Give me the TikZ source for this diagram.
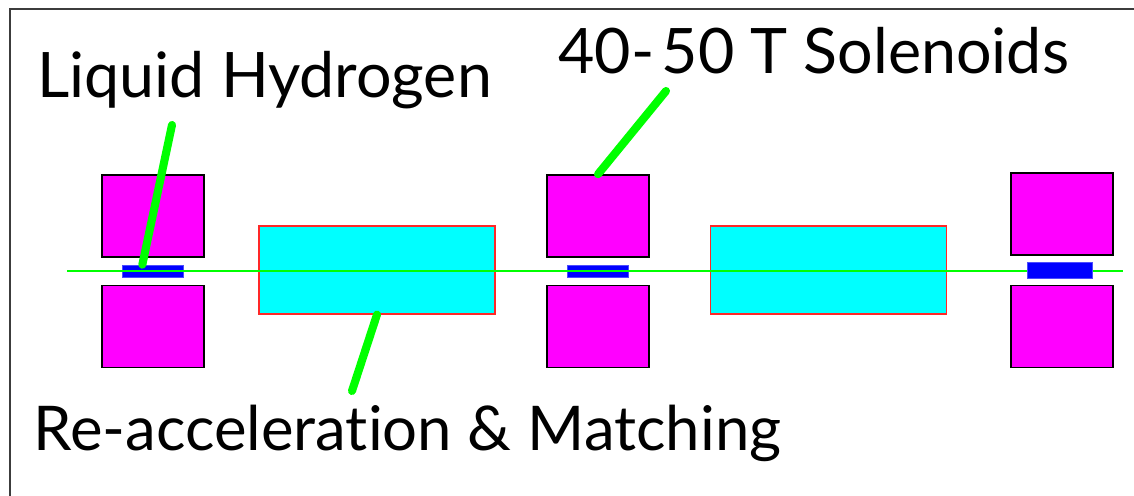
\documentclass[tikz,border=0pt]{standalone}
\usepackage{xcolor}
\usepackage{fontspec}
\setmainfont[RawFeature={-liga}]{Lato}
\definecolor{magnetFill}{RGB}{255,0,255}
\definecolor{cavityFill}{RGB}{0,255,255}
\definecolor{cavityEdge}{RGB}{255,40,40}
\definecolor{absorberFill}{RGB}{0,0,255}
\definecolor{pointerGreen}{RGB}{0,255,0}
\definecolor{frameGray}{RGB}{60,60,60}
\tikzset{
  magnetbox/.style={draw=black,fill=magnetFill,line width=0.9pt,inner sep=0pt,
    minimum width=2.04cm,minimum height=1.64cm},
  cavitybox/.style={draw=cavityEdge,fill=cavityFill,line width=0.7pt,inner sep=0pt,
    minimum width=4.72cm,minimum height=1.76cm},
  absorberbox/.style={draw=absorberFill!70!white,fill=absorberFill,line width=0.4pt,inner sep=0pt,
    minimum width=1.22cm,minimum height=0.24cm},
  beamline/.style={pointerGreen,line width=0.8pt},
  pointer/.style={pointerGreen,line width=4.6pt,line cap=round},
  callout/.style={font=\fontsize{35.7}{40}\selectfont,inner sep=0pt,anchor=base west}
}
\begin{document}
\begin{tikzpicture}[x=0.02cm,y=-0.02cm]
  \useasboundingbox (0,0) rectangle (1134,496);
  % frame, open on the right and at the bottom
  \coordinate (frameBL) at (10,496);
  \coordinate (frameTL) at (10,9);
  \coordinate (frameTR) at (1134,9);
  \draw[frameGray,line width=1.2pt] (frameBL) -- (frameTL) -- (frameTR);
  % solenoid pairs
  \foreach \n/\x/\yt in {A/153/216, B/598/216, C/1062/214}{
    \node[magnetbox] (mag\n top) at (\x,\yt) {};
    \node[magnetbox] (mag\n bot) at (\x,326.5) {};
  }
  % cavities
  \foreach \n/\x in {A/377, B/828.5}{
    \node[cavitybox] (cav\n) at (\x,270) {};
  }
  % absorbers under the beam
  \node[absorberbox] (absA) at (152.5,271) {};
  \node[absorberbox] (absB) at (597.5,271) {};
  \coordinate (beamStart) at (67,271);
  \coordinate (beamEnd) at (1123,271);
  \draw[beamline] (beamStart) -- (beamEnd);
  % last absorber sits over the beam
  \node[absorberbox,minimum width=1.3cm,minimum height=0.32cm] (absC) at (1059.5,270) {};
  % labels
  \node[callout] (lhLabel) at (37,98) {Liquid Hydrogen};
  \node[callout] (solLabel) at (558,74) {40-\hspace{0.12em}50 T Solenoids};
  \node[callout,font=\fontsize{35.1}{40}\selectfont] (raLabel) at (33,451) {Re-acceleration \& Matching};
  % pointers
  \coordinate (lhTail) at (172,125);
  \coordinate (solTail) at (666,91);
  \coordinate (raTail) at (352,391);
  \draw[pointer] (lhTail) -- (absA.148);
  \draw[pointer] (solTail) -- (magBtop.north);
  \draw[pointer] (raTail) -- (cavA.south);
\end{tikzpicture}
\end{document}
